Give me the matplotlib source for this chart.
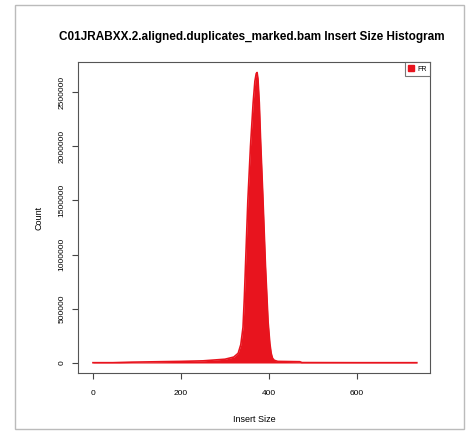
import matplotlib
matplotlib.use('Agg')
import matplotlib.pyplot as plt
from matplotlib.patches import Patch, Rectangle

plt.rcParams['font.family'] = ['Liberation Sans', 'DejaVu Sans']

# values
insert_size = [0, 45, 90, 150, 200, 250, 300, 320, 330, 336, 341, 344, 348, 352,
               358, 364, 368, 371, 373, 375, 378, 381, 386, 392, 398, 402, 405,
               408, 412, 420, 470, 475, 600, 736]
count = [3000, 3000, 8000, 12000, 15000, 20000, 35000, 55000, 90000, 170000,
         330000, 600000, 1050000, 1500000, 2000000, 2400000, 2600000, 2670000,
         2680000, 2620000, 2400000, 2050000, 1550000, 900000, 380000, 180000,
         90000, 45000, 25000, 15000, 12000, 4000, 3000, 3000]
x_ticks = [0, 200, 400, 600]
y_ticks = [0, 500000, 1000000, 1500000, 2000000, 2500000]
title = 'C01JRABXX.2.aligned.duplicates_marked.bam Insert Size Histogram'
red = '#e8141e'

fig = plt.figure(figsize=(4.66, 4.33), dpi=100)
ax = fig.add_axes([0.1674, 0.1386, 0.7554, 0.7182])

ax.fill_between(insert_size, count, 0, color=red, lw=0)
ax.plot(insert_size, count, color=red, lw=1.2, solid_joinstyle='round')

ax.set_xlim(-34, 766)
ax.set_ylim(-92000, 2777000)
ax.set_xticks(x_ticks)
ax.set_xticklabels([str(v) for v in x_ticks], fontsize=6)
ax.set_yticks(y_ticks)
ax.set_yticklabels([str(v) for v in y_ticks], fontsize=6, rotation=90, va='center')
ax.tick_params(direction='out', length=4, width=0.8, color='#444444')
ax.tick_params(axis='x', pad=8)
ax.tick_params(axis='y', pad=5)
for s in ax.spines.values():
    s.set_color('#555555')
    s.set_linewidth(0.8)

ax.set_xlabel('Insert Size', fontsize=6.5, labelpad=13)
ax.set_ylabel('Count', fontsize=6.5, labelpad=11)
fig.text(0.541, 0.915, title, ha='center', va='center', fontsize=8.5, fontweight='bold')

leg = ax.legend(handles=[Patch(color=red, label='FR')], loc='upper right',
                fontsize=5, fancybox=False, borderaxespad=0, handlelength=0.8,
                handleheight=0.8, handletextpad=0.5, borderpad=0.5)
leg.get_frame().set_edgecolor('#555555')
leg.get_frame().set_linewidth(0.8)

fig.patches.append(Rectangle((15 / 466, 4 / 433), 449 / 466, 424 / 433,
                             transform=fig.transFigure, fill=False,
                             edgecolor='#bbbbbb', lw=1))

fig.savefig('out.png', dpi=100)
